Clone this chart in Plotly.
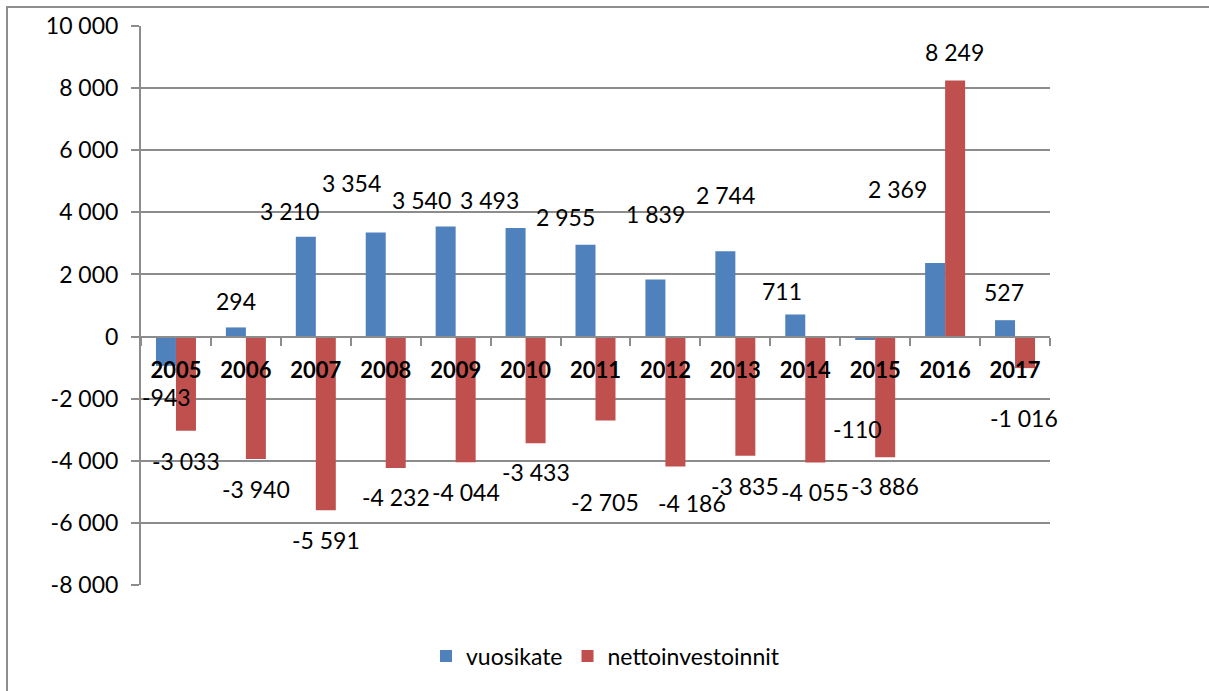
import plotly.graph_objects as go

years = ["2005", "2006", "2007", "2008", "2009", "2010", "2011", "2012", "2013", "2014", "2015", "2016", "2017"]
vuosikate = [-943, 294, 3210, 3354, 3540, 3493, 2955, 1839, 2744, 711, -110, 2369, 527]
nettoinvestoinnit = [-3033, -3940, -5591, -4232, -4044, -3433, -2705, -4186, -3835, -4055, -3886, 8249, -1016]
y_ticks = [-8000, -6000, -4000, -2000, 0, 2000, 4000, 6000, 8000, 10000]
y_tick_labels = ["-8 000", "-6 000", "-4 000", "-2 000", "0", "2 000", "4 000", "6 000", "8 000", "10 000"]

# label offsets (pixels) relative to the end of each bar
blue_dx = [1, 0, -16, -24, -24, -26, -20, 0, 0, -13, -8, -38, -1]
blue_dy = [31, -26, -26, -49, -27, -28, -28, -65, -56, -23, 89, -74, -28]
red_dx = [0, 0, 0, 0, 0, 0, -1, 17, 0, 0, 0, -1, -1]
red_dy = [30, 30, 30, 29, 30, 29, 81, 36, 30, 30, 29, -28, 50]

BLUE = "#4F81BD"
RED = "#C0504D"
GRID = "#8C8C8C"
FONT = "Lato"
FS = 23

def fmt(v):
    return f"{v:,}".replace(",", " ")

fig = go.Figure()
fig.add_trace(go.Bar(name="vuosikate", x=years, y=vuosikate, marker=dict(color=BLUE, line=dict(width=0))))
fig.add_trace(go.Bar(name="nettoinvestoinnit", x=years, y=nettoinvestoinnit, marker=dict(color=RED, line=dict(width=0))))

ymin, ymax = y_ticks[0], y_ticks[-1]
zero_pos = (0 - ymin) / (ymax - ymin)

bar_off_px = 10  # half of bar width
annotations = []
for i, yr in enumerate(years):
    annotations.append(dict(x=i, y=vuosikate[i], xref="x", yref="y", text=fmt(vuosikate[i]),
                            showarrow=False, xshift=-bar_off_px + blue_dx[i], yshift=-blue_dy[i],
                            font=dict(family=FONT, size=FS, color="black"), xanchor="center", yanchor="middle"))
    annotations.append(dict(x=i, y=nettoinvestoinnit[i], xref="x", yref="y", text=fmt(nettoinvestoinnit[i]),
                            showarrow=False, xshift=bar_off_px + red_dx[i], yshift=-red_dy[i],
                            font=dict(family=FONT, size=FS, color="black"), xanchor="center", yanchor="middle"))

fig.update_layout(
    width=1209, height=691,
    margin=dict(l=141, r=159, t=26, b=106),
    paper_bgcolor="white", plot_bgcolor="white",
    font=dict(family=FONT, size=FS, color="black"),
    barmode="group", bargap=0.428, bargroupgap=0,
    showlegend=True,
    legend=dict(orientation="h", x=0.511, y=-0.127, xanchor="center", yanchor="middle",
                font=dict(family=FONT, size=FS, color="black"), itemwidth=30, traceorder="normal"),
    annotations=annotations,
    shapes=[dict(type="rect", xref="paper", yref="paper", x0=(7 - 141) / 909, x1=1.3,
                 y0=-0.3, y1=(585 - 7) / 559, line=dict(color="#8E8E8E", width=2), layer="below")],
)
fig.update_xaxes(type="category", categoryorder="array", categoryarray=years, range=[-0.5, len(years) - 0.5],
                 anchor="free", position=zero_pos, showline=True, linecolor=GRID, linewidth=2,
                 ticks="outside", tickson="boundaries", ticklen=8, tickcolor=GRID, tickwidth=2,
                 tickfont=dict(family=FONT, size=22, color="black", weight="bold"), ticklabelstandoff=14,
                 tickangle=0, showgrid=False, zeroline=False)
fig.update_yaxes(range=[ymin, ymax], tickvals=y_ticks, ticktext=y_tick_labels, showline=True, linecolor=GRID,
                 linewidth=2, ticks="outside", ticklen=8, tickcolor=GRID, tickwidth=2, showgrid=True,
                 gridcolor=GRID, gridwidth=1.5, zeroline=False, tickfont=dict(family=FONT, size=FS, color="black"),
                 ticklabelstandoff=8)

fig.write_html("out.html", config={"displayModeBar": False},
               post_script="document.body.style.margin='0';document.body.style.overflow='hidden';")
